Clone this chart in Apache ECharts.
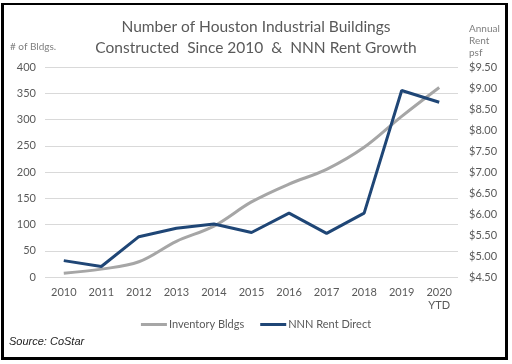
<!DOCTYPE html>
<html><head><meta charset="utf-8">
<script src="https://cdn.jsdelivr.net/npm/echarts@6/dist/echarts.min.js"></script>
<style>html,body{margin:0;padding:0;background:#fff}#c{width:512px;height:364px}</style>
</head><body><div id="c"></div>
<script>
var categories = ['2010','2011','2012','2013','2014','2015','2016','2017','2018','2019','2020\nYTD'];
var inventoryBldgs = [7, 15, 29, 68, 97, 143, 177, 205, 247, 306, 361];
var nnnRentDirect = [4.89, 4.75, 5.46, 5.66, 5.76, 5.56, 6.02, 5.54, 6.02, 8.94, 8.66];
var leftTicks = {min: 0, max: 400, interval: 50};
var rightTicks = {min: 4.5, max: 9.5, interval: 0.5};

var F = 'Lato, "Open Sans", sans-serif';
var chart = echarts.init(document.getElementById('c'), null, {renderer: 'canvas'});
chart.setOption({
  animation: false,
  backgroundColor: '#fff',
  title: [
    {text: 'Number of Houston Industrial Buildings', left: 'center', top: 14,
     textStyle: {fontFamily: F, fontSize: 15.5, fontWeight: 'normal', color: '#595959'}},
    {text: 'Constructed  Since 2010  &  NNN Rent Growth', left: 'center', top: 35,
     textStyle: {fontFamily: F, fontSize: 15.5, fontWeight: 'normal', color: '#595959'}}
  ],
  grid: {left: 45, right: 54, top: 67, bottom: 87},
  legend: {
    bottom: 29, left: 'center', itemGap: 16, icon: 'rect', itemWidth: 26, itemHeight: 3,
    textStyle: {fontFamily: F, fontSize: 11, color: '#595959', padding: [0, 0, 0, -3]},
    data: ['Inventory Bldgs', 'NNN Rent Direct']
  },
  xAxis: {
    type: 'category', data: categories, boundaryGap: true,
    axisLine: {show: false}, axisTick: {show: false},
    axisLabel: {fontFamily: F, fontSize: 11, color: '#595959', margin: 9, lineHeight: 13}
  },
  yAxis: [
    {type: 'value', min: leftTicks.min, max: leftTicks.max, interval: leftTicks.interval,
     axisLine: {show: false}, axisTick: {show: false},
     splitLine: {lineStyle: {color: '#d9d9d9', width: 1}},
     axisLabel: {fontFamily: F, fontSize: 11, color: '#595959', margin: 9}},
    {type: 'value', min: rightTicks.min, max: rightTicks.max, interval: rightTicks.interval,
     axisLine: {show: false}, axisTick: {show: false}, splitLine: {show: false},
     axisLabel: {fontFamily: F, fontSize: 11, color: '#595959', margin: 11,
       formatter: function (v) { return '$' + v.toFixed(2); }}}
  ],
  series: [
    {name: 'Inventory Bldgs', type: 'line', yAxisIndex: 0, data: inventoryBldgs, smooth: 0.35,
     showSymbol: false, symbol: 'none', color: '#a6a6a6', lineStyle: {width: 3, color: '#a6a6a6'}},
    {name: 'NNN Rent Direct', type: 'line', yAxisIndex: 1, data: nnnRentDirect,
     showSymbol: false, symbol: 'none', color: '#1f4676', lineStyle: {width: 3, color: '#1f4676'}}
  ],
  graphic: [
    {type: 'text', left: 10, top: 42, style: {text: '# of Bldgs.', fontFamily: F, fontSize: 10, fill: '#7f7f7f'}},
    {type: 'text', left: 469, top: 23, style: {text: 'Annual\nRent\npsf', fontFamily: F, fontSize: 10, lineHeight: 12, fill: '#7f7f7f'}},
    {type: 'text', left: 9, top: 336, style: {text: 'Source: CoStar', fontFamily: '"Liberation Sans", Arial, sans-serif', fontStyle: 'italic', fontSize: 11, fill: '#222'}},
    {type: 'rect', shape: {x: 1, y: 3, width: 3, height: 357}, style: {fill: '#000'}},
    {type: 'rect', shape: {x: 505, y: 3, width: 3, height: 357}, style: {fill: '#000'}},
    {type: 'rect', shape: {x: 1, y: 3, width: 507, height: 2}, style: {fill: '#000'}},
    {type: 'rect', shape: {x: 1, y: 357, width: 507, height: 3}, style: {fill: '#000'}}
  ]
});
</script></body></html>
